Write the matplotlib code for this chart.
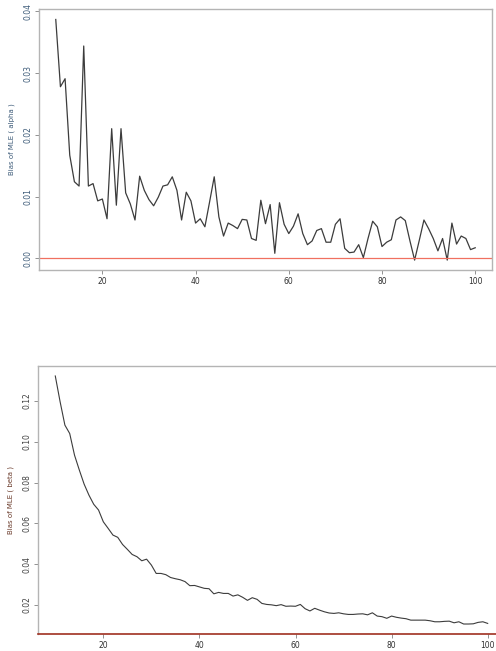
import numpy as np
import matplotlib.pyplot as plt

# sample sizes n = 10..100
n = list(range(10, 101))

bias_alpha = [
    0.0387, 0.0278, 0.0291, 0.0167, 0.0124, 0.0117, 0.0344, 0.0117, 0.0121, 0.0093,
    0.0096, 0.0064, 0.0210, 0.0086, 0.0210, 0.0106, 0.0088, 0.0062, 0.0133, 0.0110,
    0.0095, 0.0085, 0.0099, 0.0117, 0.0119, 0.0132, 0.0110, 0.0062, 0.0107, 0.0093,
    0.0057, 0.0064, 0.0051, 0.0091, 0.0132, 0.0067, 0.0036, 0.0057, 0.0053, 0.0048,
    0.0063, 0.0062, 0.0032, 0.0029, 0.0094, 0.0056, 0.0087, 0.0008, 0.0090, 0.0055,
    0.0040, 0.0052, 0.0072, 0.0040, 0.0022, 0.0028, 0.0045, 0.0048, 0.0026, 0.0026,
    0.0055, 0.0064, 0.0016, 0.0009, 0.0010, 0.0022, 0.0001, 0.0032, 0.0060, 0.0051,
    0.0019, 0.0026, 0.0030, 0.0062, 0.0067, 0.0061, 0.0028, -0.0003, 0.0029, 0.0062,
    0.0048, 0.0032, 0.0012, 0.0032, -0.0003, 0.0057, 0.0023, 0.0036, 0.0032, 0.0014,
    0.0017,
]

bias_beta = [
    0.1323, 0.1197, 0.1082, 0.1041, 0.0935, 0.0862, 0.0793, 0.0739, 0.0694, 0.0666,
    0.0608, 0.0576, 0.0543, 0.0532, 0.0497, 0.0473, 0.0448, 0.0437, 0.0417, 0.0425,
    0.0396, 0.0355, 0.0355, 0.0349, 0.0335, 0.0329, 0.0324, 0.0315, 0.0295, 0.0296,
    0.0289, 0.0282, 0.0280, 0.0255, 0.0262, 0.0257, 0.0257, 0.0244, 0.0250, 0.0238,
    0.0223, 0.0236, 0.0228, 0.0208, 0.0203, 0.0201, 0.0197, 0.0202, 0.0194, 0.0195,
    0.0194, 0.0203, 0.0182, 0.0171, 0.0184, 0.0175, 0.0167, 0.0161, 0.0159, 0.0162,
    0.0157, 0.0154, 0.0154, 0.0156, 0.0157, 0.0152, 0.0162, 0.0146, 0.0143, 0.0135,
    0.0146, 0.0140, 0.0136, 0.0133, 0.0126, 0.0126, 0.0126, 0.0126, 0.0123, 0.0118,
    0.0118, 0.0120, 0.0121, 0.0113, 0.0118, 0.0107, 0.0107, 0.0108, 0.0115, 0.0118,
    0.0110,
]

alpha_yticks = [0.00, 0.01, 0.02, 0.03, 0.04]
beta_yticks = [0.02, 0.04, 0.06, 0.08, 0.10, 0.12]
xticks = [20, 40, 60, 80, 100]

fig = plt.figure(figsize=(4.96, 6.51), dpi=100)

GREY = '#b4b4b4'
LINE = '#3c3c3c'


def style(ax, ycolor):
    for s in ax.spines.values():
        s.set_color(GREY)
        s.set_linewidth(1.0)
    ax.tick_params(axis='both', length=3, width=0.6, color='#808080',
                   labelsize=5.5, pad=2)
    ax.tick_params(axis='x', labelcolor='#303030')
    ax.tick_params(axis='y', labelcolor=ycolor)
    for lab in ax.get_yticklabels():
        lab.set_rotation(90)
        lab.set_va('center')


# top panel: bias of alpha
ax1 = fig.add_axes([0.0786, 0.5853, 0.9133, 0.4009])
ax1.plot(n, bias_alpha, color=LINE, lw=0.9)
ax1.axhline(0, color='#f07060', lw=0.9)
ax1.set_xlim(6.4, 103.6)
ax1.set_ylim(-0.0019, 0.0404)
ax1.set_xticks(xticks)
ax1.set_yticks(alpha_yticks)
ax1.set_yticklabels([f'{v:.2f}' for v in alpha_yticks])
style(ax1, '#3c5a78')
ax1.set_ylabel('Bias of MLE ( alpha )', fontsize=5, color='#3c5a78', labelpad=6)

# bottom panel: bias of beta
ax2 = fig.add_axes([0.0766, 0.0261, 0.9415, 0.4117])
ax2.plot(n, bias_beta, color=LINE, lw=0.8)
ax2.set_xlim(6.4, 103.6)
ax2.set_ylim(0.0058, 0.1372)
ax2.set_xticks(xticks)
ax2.set_yticks(beta_yticks)
ax2.set_yticklabels([f'{v:.2f}' for v in beta_yticks])
style(ax2, '#404040')
ax2.spines['bottom'].set_color('#a03020')
ax2.spines['bottom'].set_linewidth(1.2)
ax2.set_ylabel('Bias of MLE ( beta )', fontsize=5, color='#6a3a2a', labelpad=6)

fig.savefig('out.png', dpi=100)
